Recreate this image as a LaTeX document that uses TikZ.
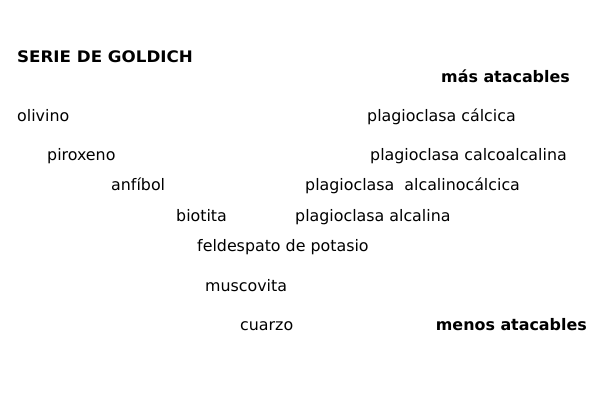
\documentclass[tikz,border=0pt]{standalone}
\usepackage{fontspec}
\setmainfont{DejaVu Sans}
\begin{document}
\begin{tikzpicture}[x=1pt,y=-1pt,
  lbl/.style={anchor=base west,inner sep=0pt,font=\fontsize{15.85}{18}\selectfont},
  blbl/.style={lbl,font=\fontsize{15.9}{18}\selectfont\bfseries}]
\useasboundingbox[fill=white] (0,0) rectangle (600,400);
\node[lbl,font=\fontsize{15.9}{18}\selectfont\bfseries\addfontfeature{FakeStretch=1.05}] (title) at (17,62) {SERIE DE GOLDICH};
\node[blbl,anchor=base east] (mas) at (570,82) {más atacables};
\node[lbl] (olivino) at (17,121) {olivino};
\node[lbl] (pcal) at (367,121) {plagioclasa cálcica};
\node[lbl] (piroxeno) at (47,160) {piroxeno};
\node[lbl] (pcalco) at (370,160) {plagioclasa calcoalcalina};
\node[lbl] (anfibol) at (111,190) {anfíbol};
\node[lbl] (palcal) at (305,190) {plagioclasa\ \ alcalinocálcica};
\node[lbl] (biotita) at (176,221) {biotita};
\node[lbl] (palc) at (295,221) {plagioclasa alcalina};
\node[lbl] (feld) at (197,251) {feldespato de potasio};
\node[lbl] (musc) at (205,291) {muscovita};
\node[lbl] (cuarzo) at (240,330) {cuarzo};
\node[blbl,anchor=base east] (menos) at (587,330) {menos atacables};
\end{tikzpicture}
\end{document}
